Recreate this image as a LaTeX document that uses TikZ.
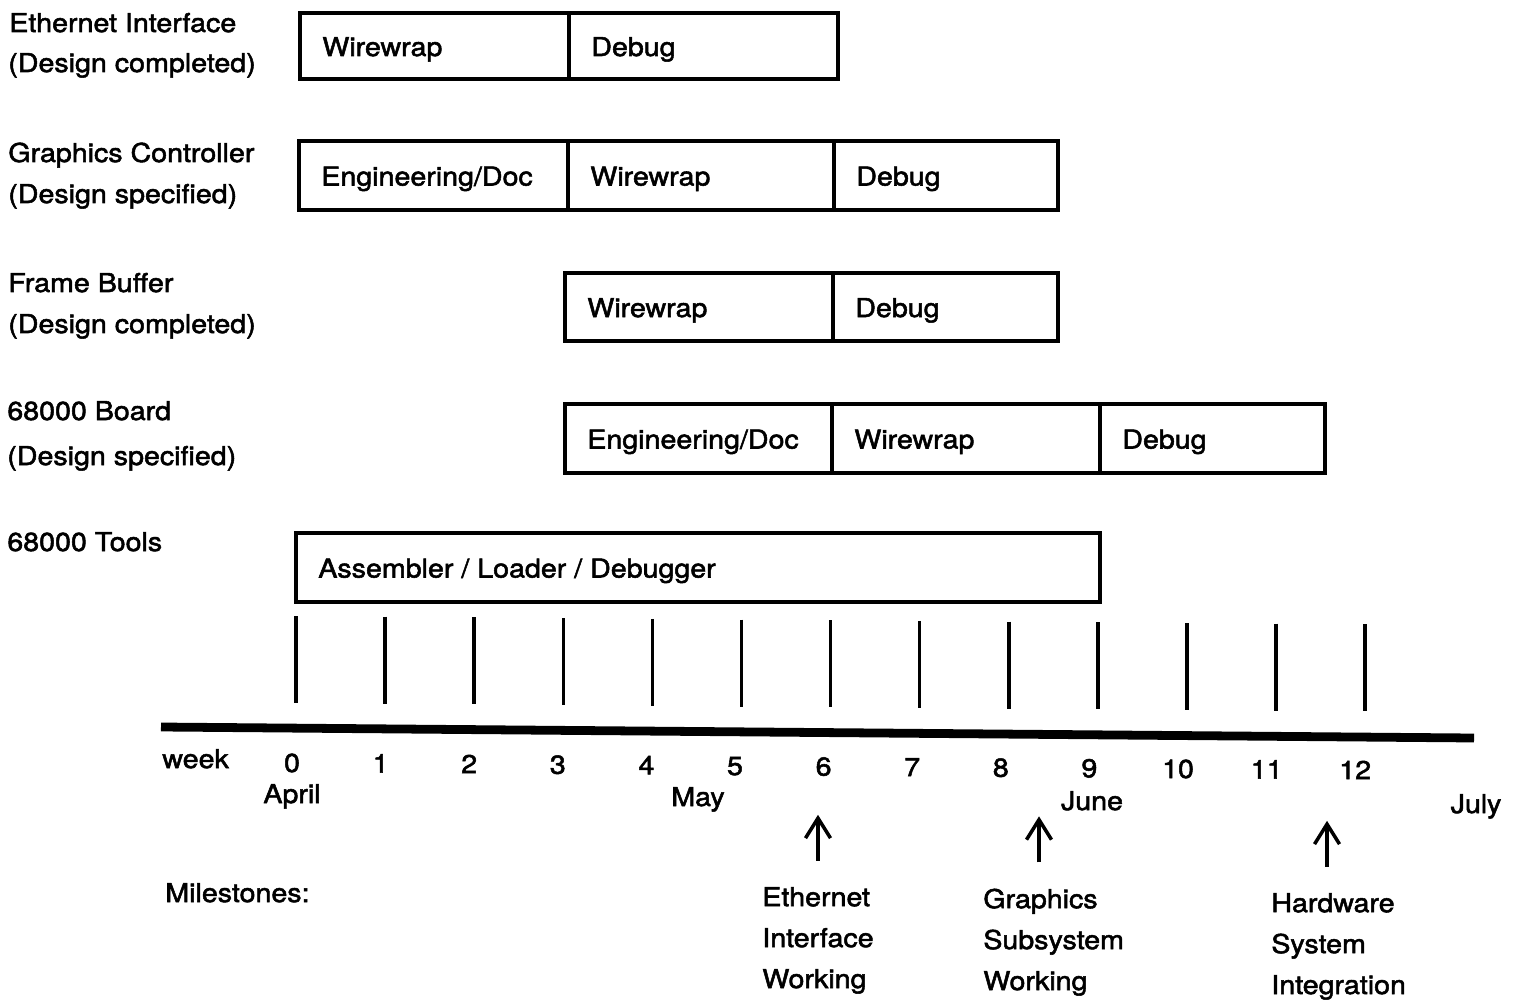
\documentclass[tikz,border=0pt]{standalone}
\usepackage{fontspec}
\setmainfont{TeX Gyre Heros}[FakeStretch=1.1, FakeBold=2]
\usetikzlibrary{arrows.meta}

\begin{document}
\begin{tikzpicture}[
  x=0.02cm, y=-0.02cm,
  every node/.style={inner sep=0pt, font=\fontsize{14.8pt}{23.3pt}\selectfont},
  txt/.style={anchor=base west},
  mon/.style={anchor=base},
  bar/.style={line width=2.8pt},
  tick/.style={line width=2pt},
  arr/.style={line width=2pt, -{Straight Barb[length=4mm,width=5mm]}}
]
\useasboundingbox (0,0) rectangle (1520,1003);

% task names:
\node [txt] (eth) at (9,32) {Ethernet Interface};
\node [txt] (ethst) at (8,72) {(Design completed)};
\node [txt] (gfx) at (8,162) {Graphics Controller};
\node [txt] (gfxst) at (8,203) {(Design specified)};
\node [txt] (fb) at (8,292) {Frame Buffer};
\node [txt] (fbst) at (8,333) {(Design completed)};
\node [txt] (brd) at (7,420) {68000 Board};
\node [txt] (brdst) at (7,465) {(Design specified)};
\node [txt] (tools) at (7,551) {68000 Tools};

% bars, one box per phase
\foreach \xa/\xb/\ya/\yb/\lbl [count=\i] in {
  300/569/13/79/Wirewrap, 569/838/13/79/Debug,
  299/568/141/210/Engineering\slash Doc, 568/834/141/210/Wirewrap, 834/1058/141/210/Debug,
  565/833/273/341/Wirewrap, 833/1058/273/341/Debug,
  565/832/404/473/Engineering\slash Doc, 832/1100/404/473/Wirewrap, 1100/1325/404/473/Debug,
  296/1100/533/602/Assembler \slash\ Loader \slash\ Debugger} {
  \draw [bar] (\xa,\ya) rectangle (\xb,\yb);
  \node [txt] (seg\i) at (\xa+22,{(\ya+\yb)/2+10}) {\lbl};
}

% week ticks and time axis
\foreach \i in {0,...,12} {
  \draw [tick] (296+89.1*\i,616+0.7*\i) -- (296+89.1*\i,703+0.7*\i);
  \node [mon] (wk\i) at (292+88.6*\i,772+0.6*\i) {\i};
}
\draw [line width=5pt] (161,727) -- (1474,738);
\node [txt] (week) at (162,768) {week};
\node [mon] (apr) at (292,803) {April};
\node [mon] (may) at (698,806) {May};
\node [mon] (jun) at (1092,810) {June};
\node [mon] (jul) at (1476,813) {July};

% milestones (base = last line)
\node [txt] (msl) at (165,902) {Milestones:};
\node [txt, align=left] (ms1) at (762,988) {Ethernet\\Interface\\Working};
\node [txt, align=left] (ms2) at (983,990) {Graphics\\Subsystem\\Working};
\node [txt, align=left] (ms3) at (1271,994) {Hardware\\System\\Integration};
\foreach \i in {1,2,3}
  \draw [arr] ([shift={(56,-26)}]ms\i.north west) -- ++(0,-46);

\end{tikzpicture}
\end{document}
